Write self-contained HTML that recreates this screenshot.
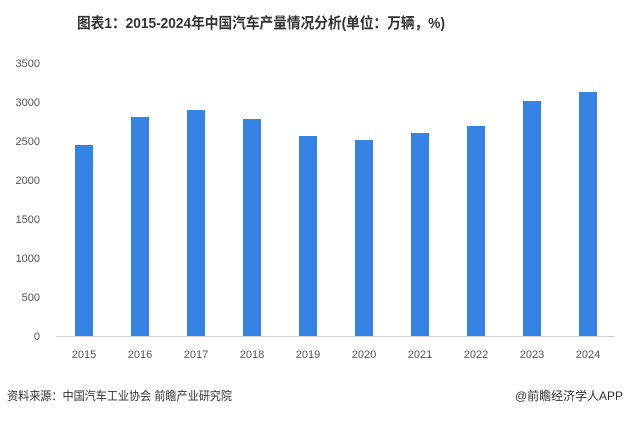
<!DOCTYPE html>
<html><head><meta charset="utf-8"><style>
body{margin:0;background:#fff;width:626px;height:417px;overflow:hidden;font-family:"Liberation Sans","Noto Sans CJK SC",sans-serif}
</style></head><body>
<svg width="626" height="417" xmlns="http://www.w3.org/2000/svg" font-family="Liberation Sans, Noto Sans CJK SC, sans-serif">
<text x="261" y="28" text-anchor="middle" font-size="15" font-weight="bold" fill="#333" textLength="368" lengthAdjust="spacingAndGlyphs">图表1：2015-2024年中国汽车产量情况分析(单位：万辆，%)</text>
<g font-size="11" fill="#555" text-anchor="end">
<text x="40" y="67">3500</text><text x="40" y="106">3000</text><text x="40" y="145">2500</text><text x="40" y="184">2000</text><text x="40" y="223">1500</text><text x="40" y="262">1000</text><text x="40" y="301">500</text><text x="40" y="340">0</text>
</g>
<line x1="56" y1="336.5" x2="615" y2="336.5" stroke="#d0d0d0" stroke-width="1"/>
<g fill="#3583e4">
<rect x="75" y="145" width="18" height="191"/>
<rect x="131" y="117" width="18" height="219"/>
<rect x="187" y="110" width="18" height="226"/>
<rect x="243" y="119" width="18" height="217"/>
<rect x="299" y="136" width="18" height="200"/>
<rect x="355" y="140" width="18" height="196"/>
<rect x="411" y="133" width="18" height="203"/>
<rect x="467" y="126" width="18" height="210"/>
<rect x="523" y="101" width="18" height="235"/>
<rect x="579" y="92" width="18" height="244"/>
</g>
<g font-size="11" fill="#555" text-anchor="middle">
<text x="84" y="358">2015</text><text x="140" y="358">2016</text><text x="196" y="358">2017</text><text x="252" y="358">2018</text><text x="308" y="358">2019</text><text x="364" y="358">2020</text><text x="420" y="358">2021</text><text x="476" y="358">2022</text><text x="532" y="358">2023</text><text x="588" y="358">2024</text>
</g>
<text x="7" y="400" font-size="12" fill="#333" textLength="225" lengthAdjust="spacingAndGlyphs">资料来源：中国汽车工业协会 前瞻产业研究院</text>
<text x="623" y="400" font-size="12" fill="#333" text-anchor="end" textLength="108" lengthAdjust="spacingAndGlyphs">@前瞻经济学人APP</text>
</svg>
</body></html>
